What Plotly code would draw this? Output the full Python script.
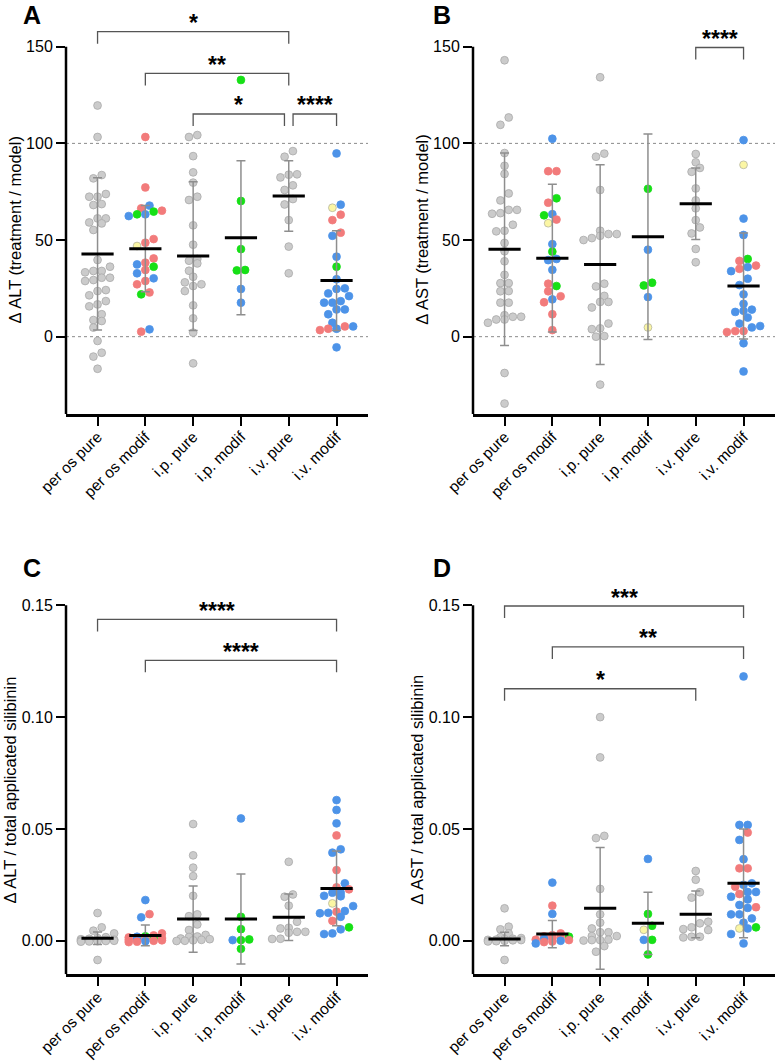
import numpy as np
import plotly.graph_objects as go

W, H = 780, 1063
FONT = "Liberation Sans, Arial, sans-serif"

categories = ["per os pure", "per os modif", "i.p. pure", "i.p. modif", "i.v. pure", "i.v. modif"]

# colour codes: k = grey (pure), r = red, b = blue, g = green, y = yellow
COLOR_FILL = {"k": "#cbcbcb", "r": "#f27b7b", "b": "#4d93e8", "g": "#16e016", "y": "#fbf6a4"}
COLOR_LINE = {"k": "#a9a9a9", "r": "#f27b7b", "b": "#4d93e8", "g": "#16e016", "y": "#b5b5a0"}

# ---------------- Panel A : delta ALT (treatment / model) ----------------
A_values = [
    [119.6, 103.3, 83.6, 81.9, 73.8, 72.4, 72.4, 68.6, 68.1, 61.2, 61.2, 59.1, 58.6, 55.2, 39.7, 36.2,
     34.0, 34.0, 33.3, 30.5, 30.5, 29.3, 28.8, 24.1, 23.6, 21.4, 18.4, 16.7, 15.7, 11.6, 8.6, 8.1, 4.7,
     -2.2, -8.3, -10.3, -16.6],
    [103.3, 77.2, 67.8, 66.4, 65.2, 64.7, 63.3, 63.3, 62.4, 50.5, 48.6, 46.9, 40.5, 38.3, 37.4, 36.2,
     34.5, 32.8, 30.2, 28.8, 27.1, 22.9, 21.9, 3.8, 2.6],
    [104.3, 103.3, 93.4, 85.0, 79.7, 72.4, 70.7, 57.6, 47.6, 40.2, 39.3, 37.9, 34.1, 31.0, 28.1, 27.1,
     26.2, 23.6, 16.2, 9.5, 2.1, -13.8],
    [132.8, 70.2, 45.3, 34.5, 34.3, 24.7, 17.6],
    [96.0, 93.1, 84.0, 83.8, 82.4, 78.3, 75.9, 71.2, 68.4, 60.3, 46.6, 32.8],
    [94.8, 68.3, 66.7, 63.1, 60.3, 53.8, 52.2, 41.4, 36.2, 29.7, 25.0, 24.7, 22.4, 21.0, 18.4, 17.6,
     17.6, 14.1, 14.1, 11.6, 7.2, 5.3, 5.3, 4.1, 4.1, 3.4, -5.5],
]
A_colors = ["k", "rrbrrggbbrryrrbgrbbrrrgbr", "k", "gggggbb", "k", "bbyrrrbbg" + "b" * 12 + "rbrbrb"]
A_mean = [42.8, 45.5, 41.7, 51.2, 72.8, 29.0]
A_sd = [39.4, 22.3, 38.5, 39.8, 18.2, 25.8]
A_brackets = [(0, 4, 157.8, "*"), (1, 4, 136.2, "**"), (2, 4, 115.2, "*"), (4, 5, 115.2, "****")]

# ---------------- Panel B : delta AST (treatment / model) ----------------
B_values = [
    [143.0, 113.4, 109.6, 95.0, 88.4, 84.2, 74.1, 70.5, 65.6, 65.6, 63.9, 63.6, 57.9, 54.8, 54.5, 48.5,
     44.2, 39.0, 32.0, 27.7, 27.7, 23.6, 23.5, 17.6, 17.6, 11.1, 10.3, 10.3, 8.9, 8.9, 7.2, -18.8, -34.6],
    [102.4, 85.6, 85.6, 71.6, 69.3, 63.4, 62.8, 60.6, 58.7, 47.9, 44.0, 40.2, 39.6, 34.6, 27.4, 26.2,
     23.5, 20.9, 19.3, 17.8, 11.6, 3.4],
    [134.2, 94.7, 93.1, 75.9, 54.8, 53.1, 53.1, 52.2, 51.0, 50.0, 27.4, 26.0, 21.1, 18.0, 18.0, 15.1,
     6.8, 4.3, 3.9, 0.3, 0.0, -24.8],
    [76.5, 45.0, 27.9, 26.5, 20.5, 4.8],
    [94.5, 90.2, 87.3, 85.3, 76.7, 70.5, 66.4, 60.3, 56.5, 53.4, 45.4, 38.5],
    [101.7, 88.9, 61.1, 52.6, 40.2, 39.2, 36.8, 36.0, 35.1, 33.9, 30.0, 26.7, 21.9, 17.0, 14.0, 13.4,
     12.8, 9.9, 6.8, 5.5, 4.8, 2.9, 2.9, 2.4, -3.4, -18.0],
]
B_colors = ["k", "brrgrbgrybgbbbrgrrbrrr", "k", "gbggby", "k", "bybbgrrbrb" + "b" * 11 + "rrr" + "bb"]
B_mean = [45.2, 40.6, 37.3, 51.7, 68.8, 26.2]
B_sd = [49.8, 38.2, 51.7, 53.1, 18.5, 27.4]
B_brackets = [(4, 5, 149.6, "****")]

# ---------------- Panel C : delta ALT / total applicated silibinin ----------------
C_values = [
    [0.0124, 0.0060, 0.0045, 0.0033, 0.0016, 0.0012, 0.0009, 0.0007, 0.0005, 0.0004, 0.0003, 0.0002,
     0.0001, 0.0000, -0.0001, -0.0002, -0.0003, -0.0004, -0.0086],
    [0.0182, 0.0119, 0.0105, 0.0033, 0.0024, 0.0020, 0.0018, 0.0015, 0.0012, 0.0010, 0.0008, 0.0006,
     0.0004, 0.0002, 0.0000, -0.0002, -0.0004, -0.0006],
    [0.0522, 0.0382, 0.0327, 0.0289, 0.0201, 0.0118, 0.0110, 0.0073, 0.0048, 0.0026, 0.0019, 0.0017,
     0.0010, 0.0007, 0.0004, 0.0002, 0.0000, -0.0001],
    [0.0547, 0.0107, 0.0052, 0.0006, 0.0003, 0.0003, -0.0036],
    [0.0353, 0.0207, 0.0197, 0.0157, 0.0085, 0.0058, 0.0055, 0.0040, 0.0040, 0.0036, 0.0009, 0.0008],
    [0.0629, 0.0585, 0.0525, 0.0471, 0.0409, 0.0394, 0.0316, 0.0257, 0.0239, 0.0230, 0.0215, 0.0215,
     0.0201, 0.0199, 0.0167, 0.0155, 0.0133, 0.0130, 0.0125, 0.0123, 0.0107, 0.0089, 0.0060, 0.0051,
     0.0033, 0.0030],
]
C_colors = ["k", "brbrrgbrrgrbrrrbrr", "k", "bgggbgg", "k", "bbbrbbrbrrbbbbybbrbbbrgbbb"]
C_mean = [0.0011, 0.0024, 0.0097, 0.0097, 0.0105, 0.0234]
C_sd = [0.0028, 0.0046, 0.0148, 0.0201, 0.0104, 0.0167]
C_brackets = [(0, 5, 0.1437, "****"), (1, 5, 0.1254, "****")]

# ---------------- Panel D : delta AST / total applicated silibinin ----------------
D_values = [
    [0.0145, 0.0063, 0.0051, 0.0033, 0.0016, 0.0012, 0.0009, 0.0007, 0.0005, 0.0004, 0.0003, 0.0002,
     0.0000, -0.0002, -0.0003, -0.0086],
    [0.0260, 0.0157, 0.0120, 0.0033, 0.0025, 0.0020, 0.0018, 0.0015, 0.0012, 0.0008, 0.0005, 0.0003,
     0.0000, -0.0003, -0.0006, -0.0012],
    [0.1000, 0.0820, 0.0469, 0.0459, 0.0232, 0.0118, 0.0081, 0.0055, 0.0038, 0.0038, 0.0021, 0.0021,
     0.0005, 0.0003, 0.0003, 0.0001, -0.0024, -0.0049],
    [0.0366, 0.0120, 0.0067, 0.0049, 0.0004, 0.0004, -0.0061],
    [0.0312, 0.0273, 0.0217, 0.0193, 0.0085, 0.0078, 0.0060, 0.0052, 0.0048, 0.0018, 0.0018, 0.0015],
    [0.1182, 0.0518, 0.0518, 0.0484, 0.0451, 0.0365, 0.0324, 0.0324, 0.0257, 0.0250, 0.0242, 0.0218,
     0.0218, 0.0209, 0.0197, 0.0185, 0.0160, 0.0150, 0.0147, 0.0118, 0.0118, 0.0100, 0.0081, 0.0060,
     0.0055, 0.0055, 0.0030, -0.0012],
]
D_colors = ["k", "brbrrrgrrbrrbrrb", "k", "bggybgg", "k", "bbbrbbrrbbrbbrbbbrbbbbbgybbb"]
D_mean = [0.0008, 0.0030, 0.0145, 0.0078, 0.0118, 0.0257]
D_sd = [0.0030, 0.0061, 0.0272, 0.0139, 0.0105, 0.0243]
D_brackets = [(0, 5, 0.1497, "***"), (1, 5, 0.1314, "**"), (0, 4, 0.1127, "*")]

AB_ticks = [0, 50, 100, 150]
AB_ticktext = ["0", "50", "100", "150"]
CD_ticks = [0, 0.05, 0.10, 0.15]
CD_ticktext = ["0.00", "0.05", "0.10", "0.15"]

# ---------------- layout geometry ----------------
XR = [-0.66, 5.658]
DX_LEFT = [66 / W, 368 / W]
DX_RIGHT = [473 / W, 775 / W]
DY_TOP = [1 - 414 / H, 1 - 4.2 / H]
DY_BOT = [1 - 974.3 / H, 1 - 578.5 / H]

panels = [
    dict(letter="A", ax="", vals=A_values, cols=A_colors, mean=A_mean, sd=A_sd, br=A_brackets,
         dx=DX_LEFT, dy=DY_TOP, yr=[-40, 172], ytop=150, tv=AB_ticks, tt=AB_ticktext, refs=[0, 100],
         title="Δ ALT (treatment / model)", tpos=(14.5, 230), lpos=(32, 15)),
    dict(letter="B", ax="2", vals=B_values, cols=B_colors, mean=B_mean, sd=B_sd, br=B_brackets,
         dx=DX_RIGHT, dy=DY_TOP, yr=[-40, 172], ytop=150, tv=AB_ticks, tt=AB_ticktext, refs=[0, 100],
         title="Δ AST (treatment / model)", tpos=(421.7, 230), lpos=(442, 15)),
    dict(letter="C", ax="3", vals=C_values, cols=C_colors, mean=C_mean, sd=C_sd, br=C_brackets,
         dx=DX_LEFT, dy=DY_BOT, yr=[-0.015, 0.162], ytop=0.15, tv=CD_ticks, tt=CD_ticktext, refs=[],
         title="Δ ALT / total applicated silibinin", tpos=(9.5, 790), lpos=(32, 567.5)),
    dict(letter="D", ax="4", vals=D_values, cols=D_colors, mean=D_mean, sd=D_sd, br=D_brackets,
         dx=DX_RIGHT, dy=DY_BOT, yr=[-0.015, 0.162], ytop=0.15, tv=CD_ticks, tt=CD_ticktext, refs=[],
         title="Δ AST / total applicated silibinin", tpos=(416.7, 790), lpos=(442, 567.5)),
]

DOT_D = 8.3      # horizontal spacing of dots (px)
MARKER = 7.8     # marker diameter (px)


def swarm(vals, ppu, cpx, d=DOT_D, thr=7.5, maxn=5):
    """Simple row-based beeswarm: returns x offsets (category units)."""
    vals = np.asarray(vals, dtype=float)
    order = np.argsort(vals, kind="stable")
    rows, cur, start = [], [], None
    for i in order:
        if cur and ((vals[i] - vals[start]) * ppu > thr or len(cur) >= maxn):
            rows.append(cur)
            cur = []
        if not cur:
            start = i
        cur.append(i)
    if cur:
        rows.append(cur)
    off = np.zeros(len(vals))
    placed = []  # (x_px, y_px)
    for r in rows:
        n = len(r)
        base = [(k - (n - 1) / 2) * d for k in range(n)]
        best = 0.0
        for sh in (0.0, 0.5 * d, -0.5 * d):
            ok = True
            for k, i in enumerate(r):
                xp, yp = base[k] + sh, vals[i] * ppu
                for (qx, qy) in placed:
                    if (xp - qx) ** 2 + (yp - qy) ** 2 < (0.8 * d) ** 2:
                        ok = False
                        break
                if not ok:
                    break
            if ok:
                best = sh
                break
        for k, i in enumerate(r):
            off[i] = (base[k] + best) / cpx
            placed.append((base[k] + best, vals[i] * ppu))
    return off


fig = go.Figure()
shapes, annotations = [], []
layout_axes = {}

for p in panels:
    ax = p["ax"]
    xname, yname = "x" + ax, "y" + ax
    ppu = (p["dy"][1] - p["dy"][0]) * H / (p["yr"][1] - p["yr"][0])
    cpx = (p["dx"][1] - p["dx"][0]) * W / (XR[1] - XR[0])

    # points
    xs, ys, fills, lines = [], [], [], []
    for ci, (vals, codes) in enumerate(zip(p["vals"], p["cols"])):
        if len(codes) != len(vals):
            codes = codes[0] * len(vals)
        off = swarm(vals, ppu, cpx)
        for v, o, c in zip(vals, off, codes):
            xs.append(ci + o)
            ys.append(v)
            fills.append(COLOR_FILL[c])
            lines.append(COLOR_LINE[c])
    fig.add_trace(go.Scatter(
        x=xs, y=ys, mode="markers", xaxis=xname, yaxis=yname, hoverinfo="skip",
        marker=dict(size=MARKER, color=fills, line=dict(color=lines, width=0.8)),
    ))
    # SD error bars
    fig.add_trace(go.Scatter(
        x=list(range(len(categories))), y=p["mean"], mode="markers", xaxis=xname, yaxis=yname,
        hoverinfo="skip", marker=dict(size=2, color="rgba(0,0,0,0)"),
        error_y=dict(type="data", array=p["sd"], visible=True, color="#8e8e8e", thickness=1.5, width=4.5),
    ))
    # mean bars
    fig.add_trace(go.Scatter(
        x=list(range(len(categories))), y=p["mean"], mode="markers", xaxis=xname, yaxis=yname,
        hoverinfo="skip",
        marker=dict(symbol="line-ew", size=23, color="black", line=dict(color="black", width=3)),
    ))

    # axes
    layout_axes["xaxis" + ax] = dict(
        domain=p["dx"], range=XR, anchor=yname, showgrid=False, zeroline=False, automargin=False,
        showline=True, linecolor="black", linewidth=2.5,
        ticks="outside", ticklen=9, tickwidth=2, tickcolor="black", ticklabelstandoff=-4,
        tickvals=list(range(len(categories))), ticktext=categories, tickangle=-45,
        tickfont=dict(family=FONT, size=15.5, color="black"),
    )
    layout_axes["yaxis" + ax] = dict(
        domain=p["dy"], range=p["yr"], anchor=xname, showgrid=False, zeroline=False, automargin=False,
        showline=False, ticks="outside", ticklen=9, tickwidth=2, tickcolor="black",
        tickvals=p["tv"], ticktext=p["tt"],
        tickfont=dict(family=FONT, size=16, color="black"),
    )

    # y axis line (only up to the top tick)
    shapes.append(dict(type="line", xref=xname + " domain", yref=yname, x0=0, x1=0,
                       y0=p["yr"][0], y1=p["ytop"], line=dict(color="black", width=2.5)))
    # dashed reference lines
    for r in p["refs"]:
        shapes.append(dict(type="line", xref=xname + " domain", yref=yname, x0=0, x1=1,
                           y0=r, y1=r, line=dict(color="#8a8a8a", width=1, dash="3px,3px"), layer="below"))

    # significance brackets
    drop = 12 / ppu
    for (a, b, yb, txt) in p["br"]:
        x0, x1 = float(a), float(b)
        for (a2, b2, yb2, _) in p["br"]:
            if abs(yb2 - yb) < 1e-9 and (a2, b2) != (a, b):
                if b == a2:
                    x1 -= 0.09
                if a == b2:
                    x0 += 0.09
        shapes.append(dict(type="path", xref=xname, yref=yname,
                           path=f"M {x0},{yb - drop} L {x0},{yb} L {x1},{yb} L {x1},{yb - drop}",
                           line=dict(color="#555555", width=1.3)))
        annotations.append(dict(x=(x0 + x1) / 2, y=yb, xref=xname, yref=yname, text="<b>" + txt + "</b>",
                                showarrow=False, xanchor="center", yanchor="middle", yshift=8.5,
                                font=dict(family=FONT, size=23, color="black")))

    # y axis title
    annotations.append(dict(x=p["tpos"][0] / W, y=1 - p["tpos"][1] / H, xref="paper", yref="paper",
                            text=p["title"], textangle=-90, showarrow=False,
                            xanchor="center", yanchor="middle",
                            font=dict(family=FONT, size=16.5, color="black")))
    # panel letter
    annotations.append(dict(x=p["lpos"][0] / W, y=1 - p["lpos"][1] / H, xref="paper", yref="paper",
                            text="<b>" + p["letter"] + "</b>", showarrow=False,
                            xanchor="center", yanchor="middle",
                            font=dict(family=FONT, size=25, color="black")))

fig.update_layout(
    width=W, height=H, margin=dict(l=0, r=0, t=0, b=0, autoexpand=False),
    paper_bgcolor="white", plot_bgcolor="white", showlegend=False,
    shapes=shapes, annotations=annotations, **layout_axes,
)

fig.write_html("out.html", config={"displayModeBar": False},
               post_script="document.body.style.margin='0';")
